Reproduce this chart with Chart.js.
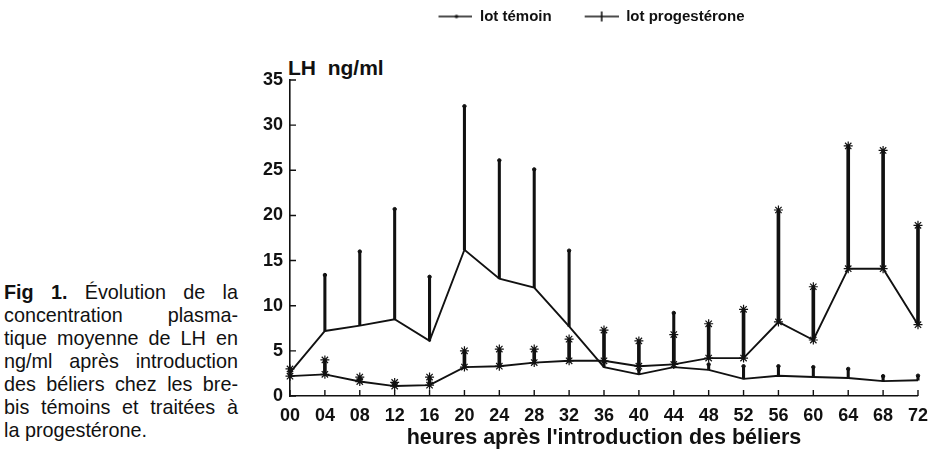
<!DOCTYPE html>
<html><head><meta charset="utf-8">
<script src="https://cdn.jsdelivr.net/npm/chart.js@4.4.1/dist/chart.umd.min.js"></script>
<style>
html,body{margin:0;padding:0;background:#fff;width:937px;height:452px;overflow:hidden;position:relative;font-family:"Liberation Sans",Arial,sans-serif;color:#111;}
#wrap{position:absolute;left:233px;top:0;width:704px;height:452px;}
#cap{position:absolute;left:4px;top:281px;width:234px;font-size:19.8px;line-height:23px;}
#cap div{text-align:justify;text-align-last:justify;white-space:nowrap;}
#cap div.last{text-align-last:left;}
#ytitle{position:absolute;left:288px;top:56px;font-weight:bold;font-size:21px;white-space:pre;}
</style></head>
<body>
<div id="cap">
<div><b>Fig 1.</b> Évolution de la</div>
<div>concentration plasma-</div>
<div>tique moyenne de LH en</div>
<div>ng/ml après introduction</div>
<div>des béliers chez les bre-</div>
<div>bis témoins et traitées à</div>
<div class="last">la progestérone.</div>
</div>
<div id="ytitle">LH  ng/ml</div>
<div id="wrap"><canvas id="c" width="704" height="452"></canvas></div>
<script>
const hours = ['00','04','08','12','16','20','24','28','32','36','40','44','48','52','56','60','64','68','72'];
const temoinMean  = [2.6, 7.2, 7.8, 8.5, 6.1, 16.2, 13.0, 12.0, 7.7, 3.2, 2.4, 3.2, 2.9, 1.9, 2.25, 2.1, 2.0, 1.65, 1.75];
const temoinUpper = [2.9, 13.4, 16.0, 20.7, 13.2, 32.1, 26.1, 25.1, 16.1, 3.8, 2.9, 9.2, 3.5, 3.3, 3.3, 3.2, 3.0, 2.2, 2.25];
const progMean    = [2.2, 2.4, 1.6, 1.1, 1.2, 3.2, 3.3, 3.7, 3.9, 3.9, 3.3, 3.5, 4.2, 4.2, 8.2, 6.2, 14.1, 14.1, 7.9];
const progUpper   = [3.0, 4.0, 2.1, 1.5, 2.1, 5.0, 5.2, 5.2, 6.3, 7.3, 6.1, 6.8, 8.0, 9.6, 20.6, 12.1, 27.7, 27.2, 18.9];
const yTicks = [0, 5, 10, 15, 20, 25, 30, 35];
const legendNames = ['lot témoin', 'lot progestérone'];
const xTitle = "heures après l'introduction des béliers";

const INK = '#111';
const FAM = '"Liberation Sans", Arial, sans-serif';

function glyph(kind){
  const c = document.createElement('canvas');
  c.width = 58; c.height = 14;
  const g = c.getContext('2d');
  g.strokeStyle = INK; g.fillStyle = INK; g.lineWidth = 1.6;
  g.beginPath(); g.moveTo(24, 7); g.lineTo(58, 7); g.stroke();
  if (kind === 'dot') { g.beginPath(); g.arc(42, 7, 1.8, 0, Math.PI*2); g.fill(); }
  else { g.beginPath(); g.moveTo(41, 2); g.lineTo(41, 12); g.stroke(); }
  return c;
}
const glyphs = [glyph('dot'), glyph('plus')];

const inwardTicks = {
  id: 'inwardTicks',
  afterDraw(chart){
    const {ctx, chartArea} = chart; const x = chart.scales.x, y = chart.scales.y;
    ctx.save(); ctx.strokeStyle = INK; ctx.lineWidth = 1.4; ctx.beginPath();
    yTicks.forEach(v => { const py = y.getPixelForValue(v); ctx.moveTo(chartArea.left, py); ctx.lineTo(chartArea.left + 6, py); });
    hours.forEach((h, i) => { const px = x.getPixelForValue(i); ctx.moveTo(px, chartArea.bottom); ctx.lineTo(px, chartArea.bottom - 6); });
    ctx.stroke(); ctx.restore();
  }
};
const legendHeight = {
  id: 'legendHeight',
  beforeLayout(chart){
    const lg = chart.legend;
    if (lg && !lg._patched) { const f = lg.fit; lg.fit = function(){ f.call(this); this.height = 80; }; lg._patched = true; }
  }
};

new Chart(document.getElementById('c'), {
  type: 'line',
  data: {
    labels: hours,
    datasets: [
      { label: legendNames[0], data: temoinMean, borderColor: INK, borderWidth: 1.9, pointRadius: 0, tension: 0, order: 0 },
      { label: legendNames[1], data: progMean, borderColor: INK, borderWidth: 1.9, pointStyle: 'star', pointRadius: 4.5, pointBorderWidth: 1.2, pointBorderColor: INK, tension: 0, order: 0 },
      { type: 'bar', label: 'errT', data: temoinMean.map((m, i) => [m, temoinUpper[i]]), backgroundColor: INK, barThickness: 2.4, grouped: false, order: 2, clip: false },
      { type: 'bar', label: 'errP', data: progMean.map((m, i) => [m, progUpper[i]]), backgroundColor: INK, barThickness: 3, grouped: false, order: 2, clip: false },
      { label: 'topT', data: temoinUpper, showLine: false, pointStyle: 'circle', pointRadius: 1.7, backgroundColor: INK, borderColor: INK, order: 1, clip: false },
      { label: 'topP', data: progUpper, showLine: false, pointStyle: 'star', pointRadius: 4.5, pointBorderWidth: 1.2, borderColor: INK, order: 1, clip: false }
    ]
  },
  options: {
    responsive: false, animation: false, devicePixelRatio: 1,
    layout: { padding: { top: 0, right: 11, bottom: 0, left: 0 } },
    plugins: {
      tooltip: { enabled: false },
      legend: {
        position: 'top', onClick: null,
        labels: {
          usePointStyle: true, pointStyleWidth: 58, padding: 9, color: INK,
          font: { family: FAM, size: 15, weight: 'bold' },
          generateLabels: () => legendNames.map((n, i) => ({ text: n, pointStyle: glyphs[i], fillStyle: INK, strokeStyle: INK, lineWidth: 0, hidden: false, datasetIndex: i, fontColor: INK }))
        }
      }
    },
    scales: {
      x: {
        type: 'category', offset: false,
        grid: { display: false, drawTicks: false },
        border: { display: true, color: INK, width: 1.6 },
        ticks: { color: INK, font: { family: FAM, size: 18, weight: 'bold' }, padding: 9, maxRotation: 0, autoSkip: false },
        title: { display: true, text: xTitle, color: INK, font: { family: FAM, size: 21.5, weight: 'bold' }, padding: { top: 0, bottom: 1 } },
        afterFit(s){ s.height = 56; }
      },
      y: {
        min: 0, max: 35,
        grid: { display: false, drawTicks: false },
        border: { display: true, color: INK, width: 1.6 },
        ticks: { stepSize: 5, color: INK, padding: 7, font: { family: FAM, size: 18, weight: 'bold' } },
        afterFit(s){ s.width = 57; }
      }
    }
  },
  plugins: [inwardTicks, legendHeight]
});
</script>
</body></html>
